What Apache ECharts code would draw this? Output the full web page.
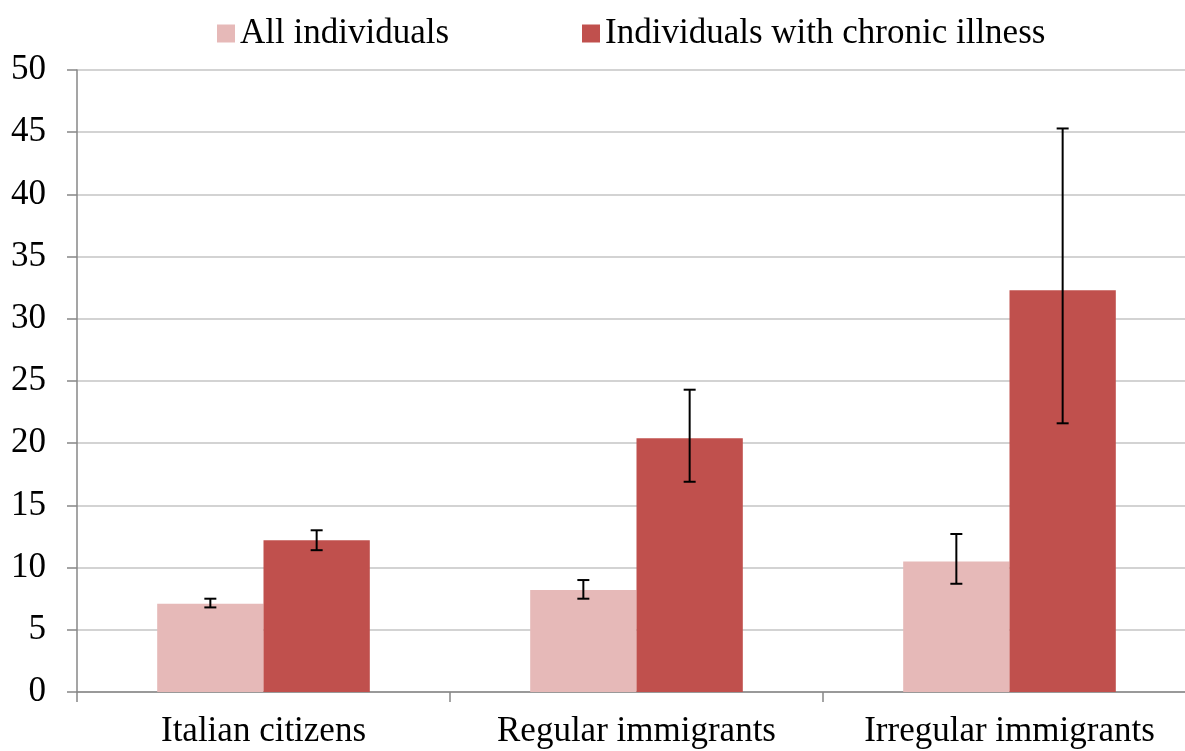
<!DOCTYPE html>
<html>
<head>
<meta charset="utf-8">
<script src="https://cdn.jsdelivr.net/npm/echarts@6/dist/echarts.min.js"></script>
<style>
  html, body { margin: 0; padding: 0; background: #fff; }
  #chart { width: 1185px; height: 751px; }
</style>
</head>
<body>
<div id="chart"></div>
<script>
const categories = ['Italian citizens', 'Regular immigrants', 'Irregular immigrants'];
const seriesNames = ['All individuals', 'Individuals with chronic illness'];

const allValues = [7.1, 8.2, 10.5];
const allLow = [6.8, 7.5, 8.7];
const allHigh = [7.5, 9.0, 12.7];

const chronicValues = [12.2, 20.4, 32.3];
const chronicLow = [11.4, 16.9, 21.6];
const chronicHigh = [13.0, 24.3, 45.3];

const yTicks = [0, 5, 10, 15, 20, 25, 30, 35, 40, 45, 50];

const FONT = '"Liberation Serif", "Times New Roman", serif';
const CATEGORY_GAP = 0.43;           // share of each band left empty
const BAR_SHARE = (1 - CATEGORY_GAP) / 2;

function errorData(low, high) {
  return low.map((lo, i) => [i, lo, high[i]]);
}

// Whisker drawn at the centre of the left (-1) or right (+1) bar of each group
function errorRenderer(side) {
  return function (params, api) {
    const i = api.value(0);
    const lo = api.coord([i, api.value(1)]);
    const hi = api.coord([i, api.value(2)]);
    const band = api.size([1, 0])[0];
    const x = lo[0] + side * band * BAR_SHARE / 2;
    const cap = 6;
    const style = { stroke: '#000', lineWidth: 2 };
    return {
      type: 'group',
      children: [
        { type: 'line', shape: { x1: x, y1: hi[1], x2: x, y2: lo[1] }, style },
        { type: 'line', shape: { x1: x - cap, y1: hi[1], x2: x + cap, y2: hi[1] }, style },
        { type: 'line', shape: { x1: x - cap, y1: lo[1], x2: x + cap, y2: lo[1] }, style }
      ]
    };
  };
}

const chart = echarts.init(document.getElementById('chart'), null, { renderer: 'canvas' });

chart.setOption({
  backgroundColor: '#ffffff',
  animation: false,
  textStyle: { fontFamily: FONT, color: '#000' },
  legend: {
    data: seriesNames,
    left: 212,
    top: 11,
    itemWidth: 18,
    itemHeight: 18,
    itemGap: 133,
    icon: 'rect',
    textStyle: { fontFamily: FONT, fontSize: 35, color: '#000' }
  },
  grid: {
    left: 77,
    top: 70,
    width: 1119,
    height: 622,
    containLabel: false,
    outerBoundsMode: 'none'
  },
  xAxis: {
    type: 'category',
    data: categories,
    axisLine: { lineStyle: { color: '#878787', width: 1.5 } },
    axisTick: { show: true, length: 10, lineStyle: { color: '#878787', width: 1.5 } },
    axisLabel: { fontFamily: FONT, fontSize: 35, color: '#000', margin: 22, interval: 0 }
  },
  yAxis: {
    type: 'value',
    min: yTicks[0],
    max: yTicks[yTicks.length - 1],
    interval: yTicks[1] - yTicks[0],
    axisLine: { show: true, lineStyle: { color: '#878787', width: 1.5 } },
    axisTick: { show: true, length: 10, lineStyle: { color: '#878787', width: 1.5 } },
    splitLine: { show: true, lineStyle: { color: '#c4c4c4', width: 1.5 } },
    axisLabel: { fontFamily: FONT, fontSize: 35, color: '#000', margin: 31 }
  },
  series: [
    {
      name: seriesNames[0],
      type: 'bar',
      data: allValues,
      barGap: '0%',
      barCategoryGap: (CATEGORY_GAP * 100) + '%',
      itemStyle: { color: '#E6B9B8' }
    },
    {
      name: seriesNames[1],
      type: 'bar',
      data: chronicValues,
      barGap: '0%',
      barCategoryGap: (CATEGORY_GAP * 100) + '%',
      itemStyle: { color: '#C0504D' }
    },
    {
      type: 'custom',
      name: 'err-all',
      data: errorData(allLow, allHigh),
      encode: { x: 0, y: [1, 2] },
      renderItem: errorRenderer(-1),
      z: 10,
      silent: true
    },
    {
      type: 'custom',
      name: 'err-chronic',
      data: errorData(chronicLow, chronicHigh),
      encode: { x: 0, y: [1, 2] },
      renderItem: errorRenderer(1),
      z: 10,
      silent: true
    }
  ]
});
</script>
</body>
</html>
